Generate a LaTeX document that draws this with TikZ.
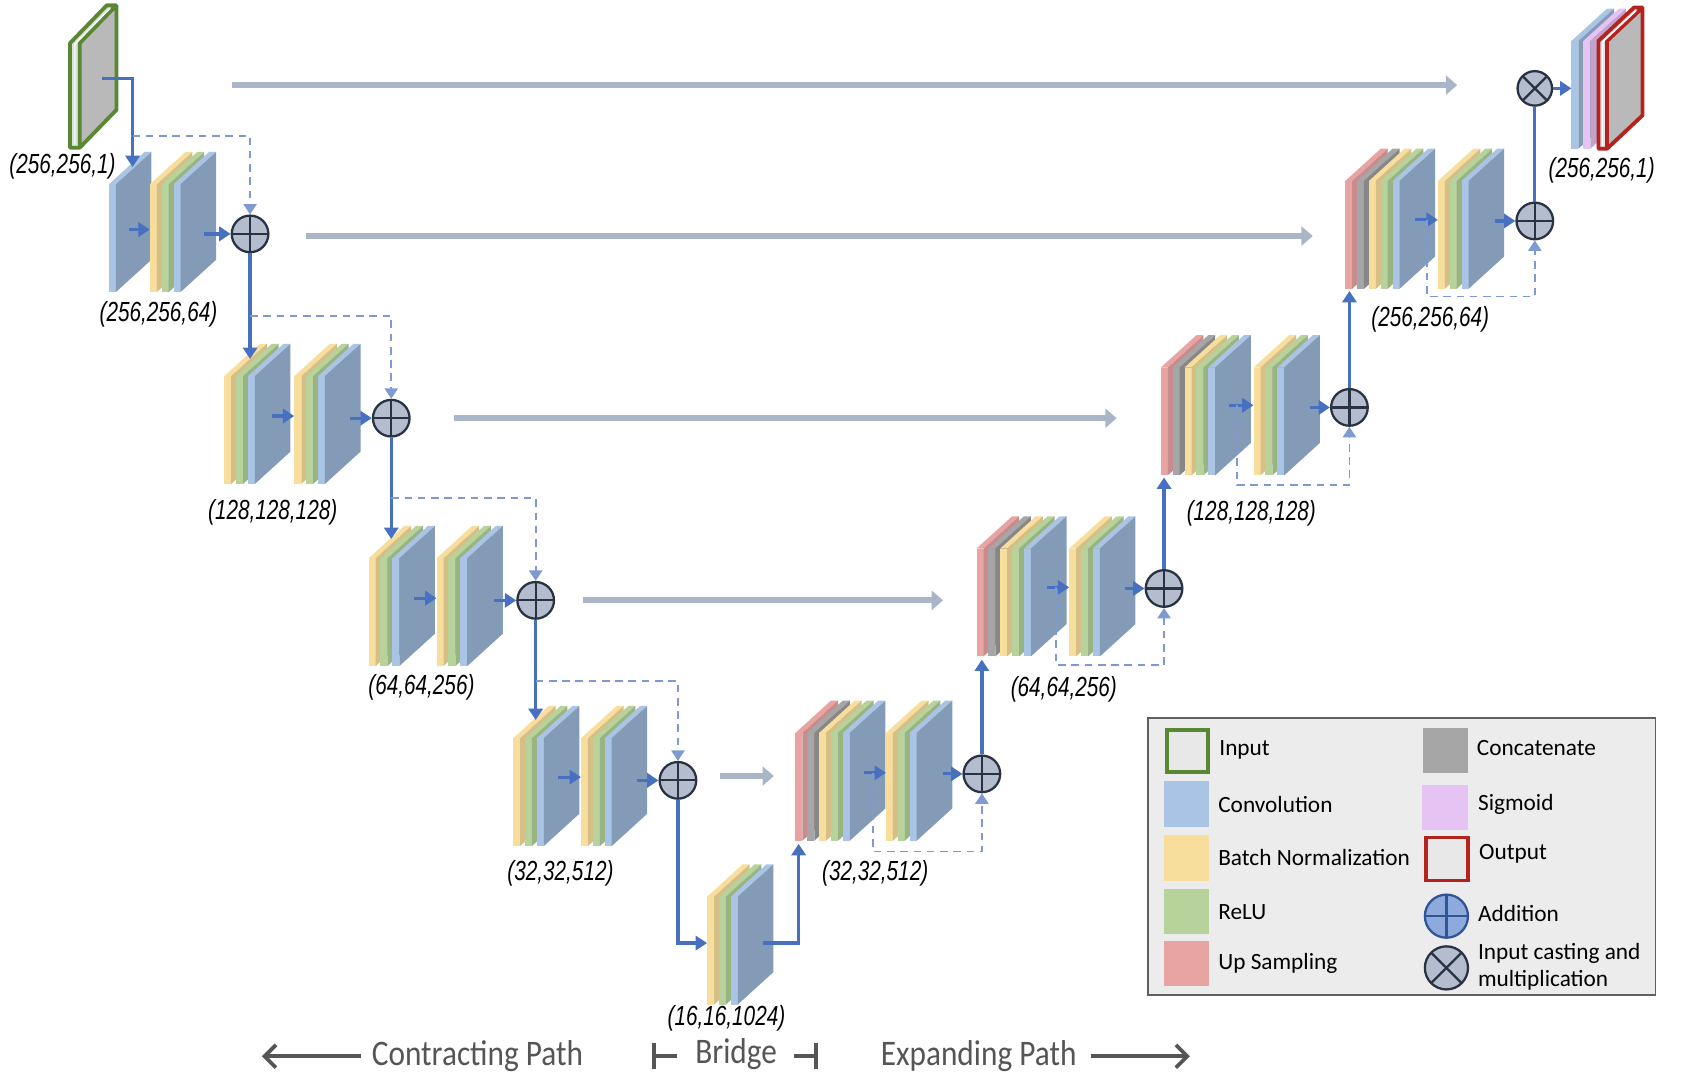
\documentclass[tikz,border=0pt]{standalone}
\usepackage{fontspec}
\setmainfont{Carlito}
\newfontfamily\dimfont[FakeStretch=0.75]{Liberation Sans}
\newfontfamily\pathfont[FakeStretch=0.87]{Carlito}
\usepackage{tikz}
\usetikzlibrary{arrows.meta, calc}
\usepackage{xcolor}
\definecolor{convA}{RGB}{169,196,228}
\definecolor{convB}{RGB}{132,155,184}
\definecolor{bnA}{RGB}{248,222,156}
\definecolor{bnB}{RGB}{214,190,135}
\definecolor{reluA}{RGB}{183,210,155}
\definecolor{reluB}{RGB}{152,180,130}
\definecolor{upA}{RGB}{232,163,163}
\definecolor{upB}{RGB}{200,140,140}
\definecolor{catA}{RGB}{166,166,166}
\definecolor{catB}{RGB}{135,135,135}
\definecolor{sigA}{RGB}{229,196,243}
\definecolor{sigB}{RGB}{195,163,204}
\definecolor{inpgreen}{RGB}{90,135,50}
\definecolor{outred}{RGB}{180,35,30}
\definecolor{flowblue}{RGB}{72,112,192}
\definecolor{dashblue}{RGB}{125,155,210}
\definecolor{skipgray}{RGB}{170,181,199}
\definecolor{circfill}{RGB}{180,189,205}
\definecolor{circdark}{RGB}{40,50,66}
\definecolor{addblue}{RGB}{142,169,219}
\definecolor{adddark}{RGB}{47,85,151}
\definecolor{legfill}{RGB}{236,236,236}
\definecolor{pathgray}{RGB}{85,85,85}

% une couche : tranche avant, dessus et face laterale
\newcommand{\couche}[3]{%
  \fill[#3A] (#1,#2) rectangle ++(6.5,-100);
  \fill[#3A] (#1,#2-100) -- ++(33,-30) -- ++(6.5,0) -- ++(-33,30) -- cycle;
  \fill[#3B] (#1+6.5,#2) -- ++(0,-100) -- ++(33,-30) -- ++(0,100) -- cycle;
}
% BN + ReLU + Conv
\newcommand{\bloc}[2]{\couche{#1}{#2}{bn}\couche{#1+11}{#2}{relu}\couche{#1+22}{#2}{conv}}
% UpSampling + Concat + BN + ReLU + Conv
\newcommand{\blocup}[2]{\couche{#1}{#2}{up}\couche{#1+11}{#2}{cat}\couche{#1+22}{#2}{bn}\couche{#1+33}{#2}{relu}\couche{#1+44}{#2}{conv}}

\begin{document}
\begin{tikzpicture}[x=0.02cm, y=-0.02cm,
    flux/.style={flowblue, line width=1.7pt, -{Triangle[length=6pt,width=7.5pt]}},
    fluxline/.style={flowblue, line width=1.7pt},
    saut/.style={dashblue, line width=0.9pt, dash pattern=on 4pt off 3pt, -{Triangle[length=5.5pt,width=7pt]}},
    pont/.style={skipgray, line width=3.2pt, -{Triangle[length=6pt,width=10pt]}},
    addnode/.style={circle, draw=circdark, fill=circfill, line width=1.2pt, minimum size=0.68cm, inner sep=0pt,
        path picture={\draw[circdark, line width=1.2pt]
            (path picture bounding box.north) -- (path picture bounding box.south)
            (path picture bounding box.west) -- (path picture bounding box.east);}},
    mulnode/.style={circle, draw=circdark, fill=circfill, line width=1.2pt, minimum size=0.64cm, inner sep=0pt,
        path picture={\draw[circdark, line width=1.2pt]
            (path picture bounding box.north west) -- (path picture bounding box.south east)
            (path picture bounding box.south west) -- (path picture bounding box.north east);}},
    dim/.style={font={\dimfont\itshape\fontsize{14.6}{16}\selectfont}},
    legtxt/.style={anchor=west, inner sep=0pt, font={\fontsize{12.3}{14.5}\selectfont}},
    pathtxt/.style={font={\pathfont\fontsize{19}{22}\selectfont}, text=pathgray},
    pathline/.style={pathgray, line width=2pt}
]
    \useasboundingbox (0,0) rectangle (1568,998);

    % --- Liaisons longues (gris) ---
    \foreach \n/\y/\a/\b in {1/79/215/1352, 2/219/284/1218, 3/388/421/1036,
                             4/557/541/875, 5/720/668/718} {
        \coordinate (g\n a) at (\a,\y);
        \coordinate (g\n b) at (\b,\y);
        \draw[pont] (g\n a) -- (g\n b);
    }

    % --- Entree ---
    \fill[gray!25] (65,137) rectangle (74,40);
    \fill[gray!25] (65,40) -- (99,5) -- (108,5) -- (74,40) -- cycle;
    \fill[gray!55] (74,137) -- (74,40) -- (108,5) -- (108,102) -- cycle;
    \draw[inpgreen, line width=2pt, line join=round] (65,137) -- (65,40) -- (99,5) -- (108,5)
        -- (108,102) -- (74,137) -- cycle (74,137) -- (74,40) -- (108,5);
    \draw[white, line width=0.6pt] (69.5,134) -- (69.5,41) -- (102,8);
    \node[dim] (l0) at (58,154) {(256,256,1)};

    % --- Niveau 1 ---
    \couche{101}{271}{conv}
    \bloc{139}{271}
    \node[addnode] (add1) at (232,217) {};
    \coordinate (e0) at (95,73);
    \coordinate (c1) at (123,155);
    \coordinate (d1) at (123,126);
    \coordinate (a1) at (120,213);
    \coordinate (b1) at (139,213);
    \coordinate (a1b) at (189,217);
    \draw[flux] (e0) -| (c1);
    \draw[saut] (d1) -| (add1.north);
    \draw[flux] (a1) -- (b1);
    \draw[flux] (a1b) -- (add1.west);
    \node[dim] (l1) at (147,292) {(256,256,64)};

    % --- Niveau 2 ---
    \bloc{208}{449}
    \bloc{273}{449}
    \node[addnode] (add2) at (363,388) {};
    \coordinate (c2) at (232,333);
    \coordinate (d2) at (232,293);
    \coordinate (a2) at (252,386);
    \coordinate (b2) at (273,386);
    \coordinate (a2b) at (325,388);
    \draw[flux] (add1.south) -- (c2);
    \draw[saut] (d2) -| (add2.north);
    \draw[flux] (a2) -- (b2);
    \draw[flux] (a2b) -- (add2.west);
    \node[dim] (l2) at (253,475) {(128,128,128)};

    % --- Niveau 3 ---
    \bloc{342}{618}
    \bloc{405}{618}
    \node[addnode] (add3) at (497,557) {};
    \coordinate (c3) at (363,500);
    \coordinate (d3) at (363,462);
    \coordinate (a3) at (384,555);
    \coordinate (b3) at (405,555);
    \coordinate (a3b) at (458,557);
    \draw[flux] (add2.south) -- (c3);
    \draw[saut] (d3) -| (add3.north);
    \draw[flux] (a3) -- (b3);
    \draw[flux] (a3b) -- (add3.west);
    \node[dim] (l3) at (391,638) {(64,64,256)};

    % --- Niveau 4 ---
    \bloc{476}{785}
    \bloc{539}{785}
    \node[addnode] (add4) at (629,724) {};
    \coordinate (c4) at (497,668);
    \coordinate (d4) at (497,632);
    \coordinate (a4) at (518,721);
    \coordinate (b4) at (539,721);
    \coordinate (a4b) at (591,724);
    \draw[flux] (add3.south) -- (c4);
    \draw[saut] (d4) -| (add4.north);
    \draw[flux] (a4) -- (b4);
    \draw[flux] (a4b) -- (add4.west);
    \node[dim] (l4) at (520,810) {(32,32,512)};

    % --- Pont ---
    \bloc{656}{932}
    \coordinate (br) at (656,875);
    \coordinate (bo) at (708,875);
    \coordinate (u4) at (741,783);
    \draw[flux] (add4.south) |- (br);
    \draw[flux] (bo) -| (u4);
    \node[dim] (l5) at (674,945) {(16,16,1024)};

    % --- Remontee : niveau 4 ---
    \blocup{738}{780}
    \bloc{822}{780}
    \node[addnode] (addD4) at (911,718) {};
    \coordinate (p4) at (802,717);
    \coordinate (q4) at (822,717);
    \coordinate (p4b) at (875,718);
    \coordinate (s4) at (810,717);
    \coordinate (s4b) at (911,790);
    \coordinate (u3) at (911,612);
    \draw[flux] (p4) -- (q4);
    \draw[flux] (p4b) -- (addD4.west);
    \draw[saut] (s4) |- (s4b) -- (addD4.south);
    \draw[flux] (addD4.north) -- (u3);
    \node[dim] (m4) at (812,810) {(32,32,512)};

    % --- Remontee : niveau 3 ---
    \blocup{906}{609}
    \bloc{992}{609}
    \node[addnode] (addD3) at (1080,546) {};
    \coordinate (p3) at (971,545);
    \coordinate (q3) at (992,545);
    \coordinate (p3b) at (1044,546);
    \coordinate (s3) at (980,545);
    \coordinate (s3b) at (1080,617);
    \coordinate (u2) at (1080,443);
    \draw[flux] (p3) -- (q3);
    \draw[flux] (p3b) -- (addD3.west);
    \draw[saut] (s3) |- (s3b) -- (addD3.south);
    \draw[flux] (addD3.north) -- (u2);
    \node[dim] (m3) at (987,640) {(64,64,256)};

    % --- Remontee : niveau 2 ---
    \blocup{1077}{441}
    \bloc{1163}{441}
    \node[addnode] (addD2) at (1252,378) {};
    \coordinate (p2) at (1140,376);
    \coordinate (q2) at (1163,376);
    \coordinate (p2b) at (1215,378);
    \coordinate (s2) at (1148,376);
    \coordinate (s2b) at (1252,450);
    \coordinate (u1) at (1252,270);
    \draw[flux] (p2) -- (q2);
    \draw[flux] (p2b) -- (addD2.west);
    \draw[saut] (s2) |- (s2b) -- (addD2.south);
    \draw[flux] (addD2.north) -- (u1);
    \node[dim] (m2) at (1161,476) {(128,128,128)};

    % --- Remontee : niveau 1 ---
    \blocup{1248}{268}
    \bloc{1334}{268}
    \node[addnode] (addD1) at (1424,205) {};
    \node[mulnode] (mul) at (1424,82) {};
    \coordinate (p1) at (1313,204);
    \coordinate (q1) at (1334,204);
    \coordinate (p1b) at (1387,205);
    \coordinate (s1) at (1324,204);
    \coordinate (s1b) at (1424,275);
    \coordinate (o1) at (1458,82);
    \draw[flux] (p1) -- (q1);
    \draw[flux] (p1b) -- (addD1.west);
    \draw[saut] (s1) |- (s1b) -- (addD1.south);
    \draw[fluxline] (addD1.north) -- (mul.south);
    \draw[flux] (mul.east) -- (o1);
    \node[dim] (m1) at (1327,296) {(256,256,64)};

    % --- Sortie ---
    \couche{1458}{138}{conv}
    \couche{1469}{138}{sig}
    \fill[gray!25] (1483,138) rectangle (1491,38);
    \fill[gray!25] (1483,38) -- (1516,7) -- (1524,7) -- (1491,38) -- cycle;
    \fill[gray!55] (1491,138) -- (1491,38) -- (1524,7) -- (1524,107) -- cycle;
    \draw[outred, line width=2pt, line join=round] (1483,138) -- (1483,38) -- (1516,7) -- (1524,7)
        -- (1524,107) -- (1491,138) -- cycle (1491,138) -- (1491,38) -- (1524,7);
    \draw[white, line width=0.6pt] (1487,135) -- (1487,39) -- (1518,10);
    \node[dim] (l6) at (1486,158) {(256,256,1)};

    % --- Legende ---
    \draw[gray!75!black, fill=legfill, line width=1pt] (1065,666) rectangle (1536,923);
    \draw[inpgreen, line width=2pt, fill=gray!18] (1083,677) rectangle (1121,716);
    \node[legtxt] (t1) at (1131,696) {Input};
    \foreach \y/\c/\t in {746/convA/Convolution, 796/bnA/Batch Normalization,
                          846/reluA/ReLU, 894/upA/Up Sampling} {
        \fill[\c] (1080,\y-21) rectangle (1122,\y+21);
        \node[legtxt] at (1130,\y) {\t};
    }
    \fill[catA] (1320,675) rectangle (1362,717);
    \node[legtxt] (t6) at (1370,694) {Concatenate};
    \fill[sigA] (1319,728) rectangle (1362,770);
    \node[legtxt] (t7) at (1371,746) {Sigmoid};
    \draw[outred, line width=2pt, fill=gray!18] (1323,777) rectangle (1362,817);
    \node[legtxt] (t8) at (1372,792) {Output};
    \node[addnode, fill=addblue, draw=adddark, minimum size=0.8cm,
          path picture={\draw[adddark, line width=1.2pt]
            (path picture bounding box.north) -- (path picture bounding box.south)
            (path picture bounding box.west) -- (path picture bounding box.east);}] (ladd) at (1342,850) {};
    \node[legtxt] (t9) at (1371,848) {Addition};
    \node[mulnode, minimum size=0.8cm] (lmul) at (1342,898) {};
    \node[legtxt, align=left] (t10) at (1371,897) {Input casting and\\multiplication};

    % --- Chemins ---
    \coordinate (cpa) at (335,980);
    \coordinate (cpb) at (243,980);
    \draw[pathline, -{Straight Barb[length=6pt,width=12pt]}] (cpa) -- (cpb);
    \node[pathtxt] (tc) at (443,980) {Contracting Path};
    \draw[pathline] (607,968) -- (607,992) (607,980) -- (628,980);
    \node[pathtxt] (tb) at (683,978) {Bridge};
    \draw[pathline] (737,980) -- (757,980) (757,968) -- (757,992);
    \node[pathtxt] (te) at (908,980) {Expanding Path};
    \coordinate (epa) at (1012,980);
    \coordinate (epb) at (1104,980);
    \draw[pathline, -{Straight Barb[length=6pt,width=12pt]}] (epa) -- (epb);
\end{tikzpicture}
\end{document}
